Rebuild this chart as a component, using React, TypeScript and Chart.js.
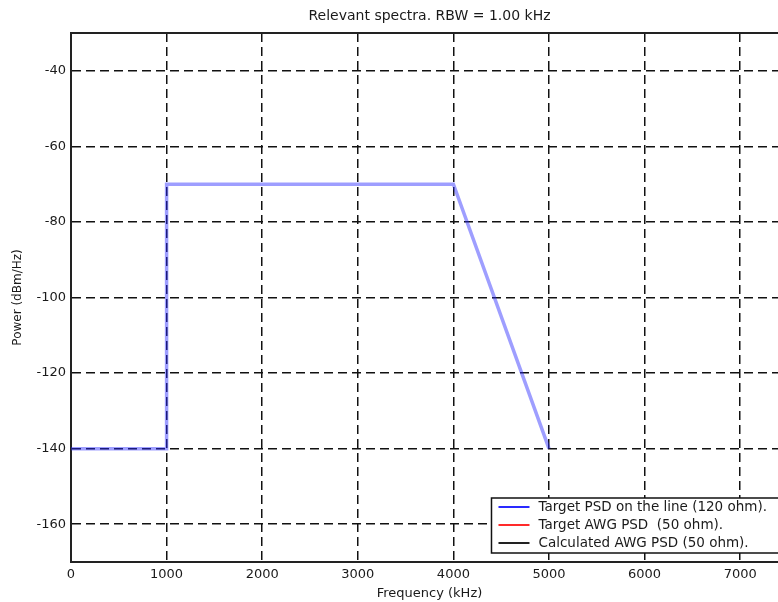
import React, { useEffect, useRef } from "react";
import { Chart, registerables } from "chart.js";

Chart.register(...registerables);

const titleText = "Relevant spectra. RBW = 1.00 kHz";
const xAxisTitle = "Frequency (kHz)";
const yAxisTitle = "Power (dBm/Hz)";

const xTicks = [0, 1000, 2000, 3000, 4000, 5000, 6000, 7000];
const yTicks = [-160, -140, -120, -100, -80, -60, -40];
const xRange = [0, 7500];
const yRange = [-170, -30];

// Target PSD on the line (120 ohm)
const targetLineFreq = [0, 1000, 1000, 4000, 5000];
const targetLinePower = [-140, -140, -70, -70, -140];

const seriesLabels = [
  "Target PSD on the line (120 ohm).",
  "Target AWG PSD  (50 ohm).",
  "Calculated AWG PSD (50 ohm).",
];
const seriesColors = ["rgba(40,40,255,0.45)", "rgba(255,0,0,0.6)", "rgba(0,0,0,0.8)"];
const legendColors = ["#2a2aff", "#ff2a2a", "#222222"];

const FONT = "'DejaVu Sans', sans-serif";

const frameAndLegend = {
  id: "frameAndLegend",
  afterDraw(chart: any) {
    const { ctx, chartArea } = chart;
    ctx.save();
    // top & right frame
    ctx.strokeStyle = "#222";
    ctx.lineWidth = 2;
    ctx.setLineDash([]);
    ctx.beginPath();
    ctx.moveTo(chartArea.left, chartArea.top);
    ctx.lineTo(chartArea.right, chartArea.top);
    ctx.lineTo(chartArea.right, chartArea.bottom);
    ctx.stroke();

    // legend
    ctx.font = `13.5px ${FONT}`;
    const labels = chart.data.datasets.map((d: any) => d.label as string);
    const textW = Math.max(...labels.map((l: string) => ctx.measureText(l).width));
    const w = 60 + textW;
    const h = 55;
    const right = chartArea.right - 8;
    const bottom = chartArea.bottom - 9;
    const left = right - w;
    const top = bottom - h;
    ctx.fillStyle = "#fff";
    ctx.fillRect(left, top, w, h);
    ctx.strokeStyle = "#111";
    ctx.lineWidth = 1.5;
    ctx.strokeRect(left, top, w, h);
    ctx.textBaseline = "middle";
    ctx.textAlign = "left";
    labels.forEach((l: string, i: number) => {
      const y = top + 9 + i * 18;
      ctx.strokeStyle = legendColors[i];
      ctx.lineWidth = 2;
      ctx.beginPath();
      ctx.moveTo(left + 7, y);
      ctx.lineTo(left + 38, y);
      ctx.stroke();
      ctx.fillStyle = "#1a1a1a";
      ctx.fillText(l, left + 47, y);
    });
    ctx.restore();
  },
};

export default function App() {
  const ref = useRef<HTMLCanvasElement>(null);

  useEffect(() => {
    if (!ref.current) return;
    const blueData = targetLineFreq.map((f, i) => ({ x: f, y: targetLinePower[i] }));
    const chart = new Chart(ref.current, {
      type: "line",
      data: {
        datasets: [
          {
            label: seriesLabels[0],
            data: blueData,
            borderColor: seriesColors[0],
            borderWidth: 3.5,
            pointRadius: 0,
            tension: 0,
            fill: false,
          },
          {
            label: seriesLabels[1],
            data: [],
            borderColor: seriesColors[1],
            borderWidth: 1.5,
            pointRadius: 0,
          },
          {
            label: seriesLabels[2],
            data: [],
            borderColor: seriesColors[2],
            borderWidth: 1.5,
            pointRadius: 0,
          },
        ],
      },
      options: {
        responsive: false,
        animation: false,
        devicePixelRatio: 1,
        layout: { padding: { left: 0, right: 12, top: 0, bottom: 0 } },
        plugins: {
          legend: { display: false },
          tooltip: { enabled: false },
          title: {
            display: true,
            text: titleText,
            fullSize: false,
            color: "#1a1a1a",
            font: { family: FONT, size: 14, weight: "normal" },
            padding: { top: 8, bottom: 8.2 },
          },
        },
        scales: {
          x: {
            type: "linear",
            min: xRange[0],
            max: xRange[1],
            afterBuildTicks: (axis: any) => {
              axis.ticks = xTicks.map((v) => ({ value: v }));
            },
            afterFit: (axis: any) => {
              axis.height = 40;
            },
            ticks: {
              color: "#1a1a1a",
              font: { family: FONT, size: 13 },
              padding: 5,
              maxRotation: 0,
              autoSkip: false,
              callback: (v: any) => String(v),
            },
            grid: {
              color: "#111",
              lineWidth: 1.5,
              drawTicks: false,
            },
            border: { display: true, color: "#222", width: 2, dash: [9, 5] },
            title: {
              display: true,
              text: xAxisTitle,
              color: "#1a1a1a",
              font: { family: FONT, size: 13 },
              padding: { top: 0, bottom: 1 },
            },
          },
          y: {
            type: "linear",
            min: yRange[0],
            max: yRange[1],
            afterBuildTicks: (axis: any) => {
              axis.ticks = yTicks.map((v) => ({ value: v }));
            },
            afterFit: (axis: any) => {
              axis.width = 71;
            },
            ticks: {
              color: "#1a1a1a",
              font: { family: FONT, size: 13 },
              padding: 5,
              autoSkip: false,
              callback: (v: any) => String(v),
            },
            grid: {
              color: "#111",
              lineWidth: 1.5,
              drawTicks: false,
            },
            border: { display: true, color: "#222", width: 2, dash: [9, 5] },
            title: {
              display: true,
              text: yAxisTitle,
              color: "#1a1a1a",
              font: { family: FONT, size: 12 },
              padding: { top: 11, bottom: 0 },
            },
          },
        },
      },
      plugins: [frameAndLegend],
    });
    return () => chart.destroy();
  }, []);

  return (
    <div
      style={{
        position: "fixed",
        left: 0,
        top: 0,
        width: 778,
        height: 602,
        overflow: "hidden",
        background: "#fff",
      }}
    >
      <canvas ref={ref} width={800} height={602} style={{ display: "block" }} />
    </div>
  );
}
